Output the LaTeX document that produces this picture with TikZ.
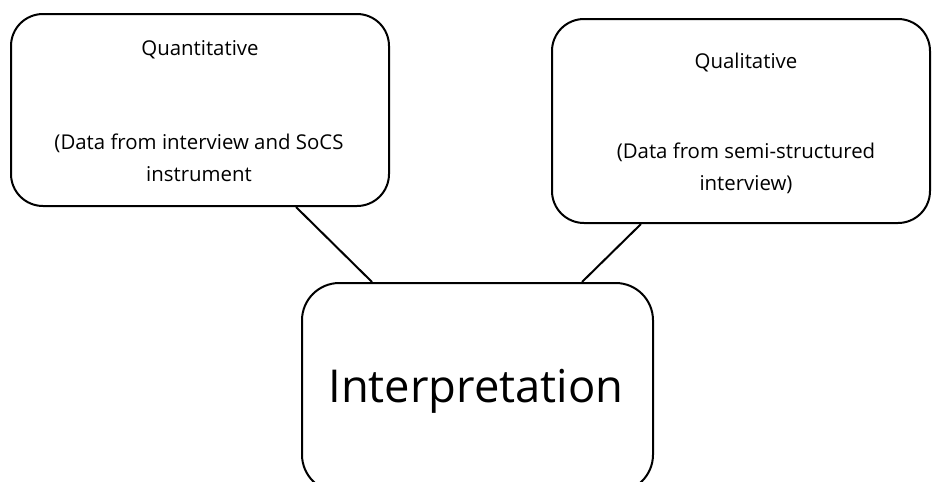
\documentclass[tikz,border=0pt]{standalone}
\usepackage{fontspec}
\setmainfont{Open Sans}
\usetikzlibrary{calc}
\begin{document}
\begin{tikzpicture}[x=0.75pt,y=-0.75pt,
  roundbox/.style={draw=black, line width=1.5pt, rounded corners=24pt, inner sep=0pt},
  smalltxt/.style={font=\fontsize{15.3pt}{24pt}\selectfont, align=center, inner sep=0pt},
  bigtxt/.style={font=\fontsize{34pt}{40pt}\selectfont, inner sep=0pt},
  conn/.style={draw=black, line width=1.5pt}]
\useasboundingbox (0,0) rectangle (932,482);
\clip (0,0) rectangle (932,482);
% boxes
\node[roundbox, minimum width=378*0.75pt, minimum height=192*0.75pt] (lbox) at (200,110) {};
\node[roundbox, minimum width=378*0.75pt, minimum height=204*0.75pt] (rbox) at (741,121) {};
\node[roundbox, rounded corners=28pt, minimum width=351*0.75pt, minimum height=209*0.75pt] (ibox) at (477.5,387.5) {};
% texts
\node[smalltxt] (qt) at (200,50) {Quantitative};
\node[smalltxt] (qtd) at (199,158) {(Data from interview and SoCS\\instrument};
\node[smalltxt] (ql) at (746,62) {Qualitative};
\node[smalltxt] (qld) at (746,168) {(Data from semi-structured\\interview)};
\node[bigtxt] (it) at (476,391) {Interpretation};
% connectors
\coordinate (la) at ($(lbox.south west)+(286,0)$);
\coordinate (lb) at ($(ibox.north west)+(71,0)$);
\coordinate (ra) at ($(rbox.south west)+(90,0)$);
\coordinate (rb) at ($(ibox.north west)+(281,0)$);
\draw[conn] (la) -- (lb);
\draw[conn] (ra) -- (rb);
\end{tikzpicture}
\end{document}
